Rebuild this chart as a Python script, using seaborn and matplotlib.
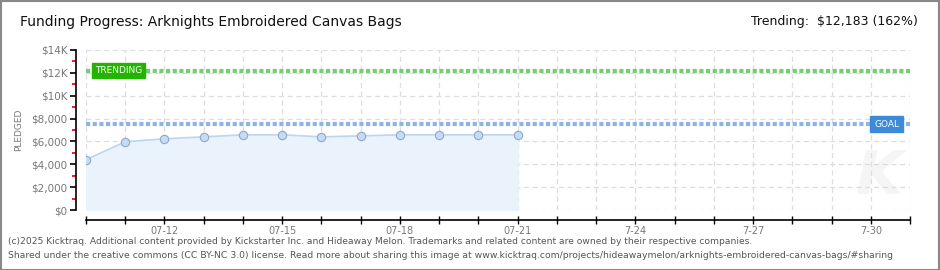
import matplotlib
matplotlib.use("Agg")
import matplotlib.pyplot as plt
from matplotlib.patches import Rectangle
from matplotlib.ticker import FixedLocator
import seaborn as sns
import pandas as pd

# ---- data ----
dates = pd.date_range("2025-07-10", "2025-07-21", freq="D")
pledged = [4410, 5970, 6230, 6400, 6580, 6580, 6400, 6490, 6580, 6580, 6580, 6580]
goal = 7500
trending = 12183
trend_pct = 162
x_start, x_end = "2025-07-10", "2025-07-31"
xtick_dates = ["2025-07-12", "2025-07-15", "2025-07-18", "2025-07-21", "2025-07-24", "2025-07-27", "2025-07-30"]
xtick_labels = ["07-12", "07-15", "07-18", "07-21", "7-24", "7-27", "7-30"]
ytick_vals = [0, 2000, 4000, 6000, 8000, 10000, 12000, 14000]
ytick_labels = ["$0", "$2,000", "$4,000", "$6,000", "$8,000", "$10K", "$12K", "$14K"]
title = "Funding Progress: Arknights Embroidered Canvas Bags"
footer1 = "(c)2025 Kicktraq. Additional content provided by Kickstarter Inc. and Hideaway Melon. Trademarks and related content are owned by their respective companies."
footer2 = "Shared under the creative commons (CC BY-NC 3.0) license. Read more about sharing this image at www.kicktraq.com/projects/hideawaymelon/arknights-embroidered-canvas-bags/#sharing"

df = pd.DataFrame({"date": dates, "pledged": pledged})

sns.set_theme(style="white")
plt.rcParams["font.family"] = ["DejaVu Sans"]

W, H = 940, 270
fig = plt.figure(figsize=(W / 100, H / 100), dpi=100)
fig.patch.set_facecolor("white")
ax = fig.add_axes([86 / W, (H - 210) / H, 824 / W, 160 / H])
ax.set_facecolor("white")

# faint watermark
ax.text(0.963, 0.2, "K", transform=ax.transAxes, fontsize=44, color="#f5f5f5", ha="center",
        va="center", fontstyle="italic", fontweight="bold", zorder=0)

# grid
ax.set_xlim(pd.Timestamp(x_start), pd.Timestamp(x_end))
ax.set_ylim(0, 14000)
ax.grid(True, which="major", color="#dddddd", linestyle=(0, (4, 3)), linewidth=0.9)

# area + line + markers
ax.fill_between(df["date"], df["pledged"], 0, color="#eaf2fc", zorder=1)
sns.lineplot(data=df, x="date", y="pledged", ax=ax, color="#bcd6f2", linewidth=1.2, zorder=2)
sns.scatterplot(data=df, x="date", y="pledged", ax=ax, color="#c4dcf6", edgecolor="#8fa8c8",
                s=36, linewidth=0.8, zorder=3)

# goal and trending lines
ax.axhline(goal, color="#8fb4e3", linewidth=3, linestyle=(0, (1, 0.6)), zorder=4)
ax.axhline(trending, color="#77cc77", linewidth=3, linestyle=(0, (1, 0.6)), zorder=4)

# label boxes
ax.text(pd.Timestamp("2025-07-10") + pd.Timedelta(hours=5.5), trending, "TRENDING", color="white",
        fontsize=6.5, va="center", ha="left", zorder=6,
        bbox=dict(boxstyle="square,pad=0.35", facecolor="#22b400", edgecolor="#22b400"))
ax.text(pd.Timestamp("2025-07-30") + pd.Timedelta(hours=2), goal, "GOAL", color="white",
        fontsize=6.5, va="center", ha="left", zorder=6,
        bbox=dict(boxstyle="square,pad=0.4", facecolor="#3d8ad9", edgecolor="#3d8ad9"))

# axes / ticks
ax.set_xlabel("")
ax.set_ylabel("PLEDGED", fontsize=6.5, color="#777777", va="center")
ax.yaxis.set_label_coords(-67 / 824, 0.5)
for s in ["top", "right"]:
    ax.spines[s].set_visible(False)
ax.spines["left"].set_position(("outward", 7.2))
ax.spines["bottom"].set_position(("outward", 7.2))
for s in ["left", "bottom"]:
    ax.spines[s].set_color("black")
    ax.spines[s].set_linewidth(1.2)

ax.set_yticks(ytick_vals)
ax.set_yticklabels(ytick_labels)
ax.yaxis.set_minor_locator(FixedLocator([1000, 3000, 5000, 7000, 9000, 11000, 13000]))
ax.tick_params(axis="y", which="major", left=True, length=4, width=1.2, color="black",
               labelsize=7.5, labelcolor="#777777", pad=2)
ax.tick_params(axis="y", which="minor", left=True, length=3, width=1.2, color="#dd0000")

day_ticks = pd.date_range(x_start, x_end, freq="D")
ax.set_xticks(day_ticks)
lab_map = dict(zip(pd.to_datetime(xtick_dates), xtick_labels))
ax.set_xticklabels([lab_map.get(d, "") for d in day_ticks])
ax.tick_params(axis="x", which="major", bottom=True, direction="inout", length=6, width=1.0,
               color="black", labelsize=7, labelcolor="#777777", pad=1)

# texts
fig.text(20 / W, 1 - 22 / H, title, fontsize=10, color="#111111", va="center", ha="left")
fig.text(918 / W, 1 - 22 / H, f"Trending:  ${trending:,} ({trend_pct}%)", fontsize=9,
         color="#111111", va="center", ha="right")
fig.text(8 / W, 1 - 242 / H, footer1, fontsize=6.6, color="#555555", va="center", ha="left")
fig.text(8 / W, 1 - 256 / H, footer2, fontsize=6.7, color="#555555", va="center", ha="left")

# border
fig.patches.append(Rectangle((0.5 / W, 0.5 / H), 1 - 1.5 / W, 1 - 1.5 / H, transform=fig.transFigure,
                             fill=False, edgecolor="#888888", linewidth=1.5))

fig.savefig("out.png", dpi=100)
